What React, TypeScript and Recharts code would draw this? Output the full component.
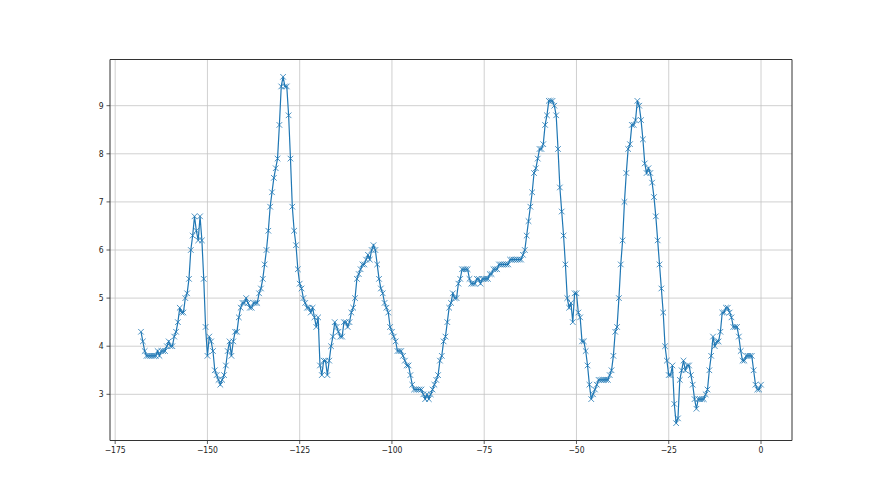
import { LineChart, Line, XAxis, YAxis, CartesianGrid, ReferenceArea } from "recharts";

// sampled every half unit, from -168 up to 0
const X_START = -168;
const X_STEP = 0.5;

const values: number[] = [
  4.3, 4.1, 3.9, 3.8, 3.8, 3.8, 3.8, 3.8, 3.8, 3.9,
  3.8, 3.9, 3.9, 3.9, 4.0, 4.1, 4.0, 4.0, 4.2, 4.3,
  4.5, 4.8, 4.7, 4.7, 5.0, 5.1, 5.4, 6.0, 6.3, 6.7,
  6.4, 6.2, 6.7, 6.2, 5.4, 4.4, 3.8, 4.2, 4.1, 3.9,
  3.5, 3.4, 3.3, 3.2, 3.3, 3.4, 3.6, 3.9, 4.1, 3.8,
  4.1, 4.3, 4.3, 4.6, 4.8, 4.9, 4.9, 5.0, 4.9, 4.8,
  4.8, 4.9, 4.9, 4.9, 5.1, 5.2, 5.4, 5.7, 6.0, 6.4,
  6.9, 7.2, 7.5, 7.7, 7.9, 8.6, 9.4, 9.6, 9.4, 9.4,
  8.8, 7.9, 6.9, 6.4, 6.1, 5.6, 5.3, 5.2, 5.0, 4.9,
  4.8, 4.8, 4.7, 4.8, 4.6, 4.4, 4.6, 3.6, 3.4, 3.7,
  3.7, 3.4, 3.7, 4.0, 4.2, 4.5, 4.4, 4.3, 4.2, 4.2,
  4.5, 4.5, 4.4, 4.5, 4.7, 4.8, 5.0, 5.4, 5.5, 5.6,
  5.7, 5.7, 5.8, 5.9, 5.8, 6.0, 6.1, 6.0, 5.7, 5.4,
  5.2, 5.1, 4.9, 4.8, 4.7, 4.4, 4.3, 4.2, 4.1, 3.9,
  3.9, 3.9, 3.8, 3.7, 3.6, 3.6, 3.4, 3.2, 3.1, 3.1,
  3.1, 3.1, 3.1, 3.0, 2.9, 3.0, 2.9, 3.0, 3.1, 3.2,
  3.3, 3.4, 3.7, 3.8, 4.1, 4.2, 4.5, 4.8, 4.9, 5.1,
  5.0, 5.0, 5.3, 5.4, 5.6, 5.6, 5.6, 5.6, 5.4, 5.3,
  5.3, 5.3, 5.4, 5.4, 5.3, 5.4, 5.4, 5.4, 5.4, 5.5,
  5.5, 5.6, 5.6, 5.6, 5.7, 5.7, 5.7, 5.7, 5.7, 5.7,
  5.8, 5.8, 5.8, 5.8, 5.8, 5.8, 5.8, 5.9, 6.0, 6.3,
  6.6, 6.9, 7.2, 7.6, 7.7, 7.9, 8.1, 8.1, 8.2, 8.6,
  8.8, 9.1, 9.1, 9.1, 9.0, 8.8, 8.1, 7.3, 6.8, 6.3,
  5.7, 5.0, 4.8, 4.9, 4.5, 5.1, 5.1, 4.7, 4.6, 4.1,
  4.1, 3.9, 3.6, 3.2, 2.9, 3.0, 3.1, 3.2, 3.3, 3.3,
  3.3, 3.3, 3.3, 3.3, 3.4, 3.5, 3.8, 4.3, 4.4, 5.0,
  5.7, 6.2, 7.0, 7.6, 8.1, 8.2, 8.6, 8.6, 8.7, 9.1,
  9.0, 8.7, 8.3, 7.8, 7.6, 7.7, 7.6, 7.4, 7.1, 6.7,
  6.2, 5.7, 5.2, 4.7, 4.0, 3.7, 3.4, 3.4, 3.6, 2.8,
  2.4, 2.5, 3.3, 3.5, 3.7, 3.5, 3.6, 3.6, 3.4, 3.2,
  2.9, 2.7, 2.9, 2.9, 2.9, 2.9, 3.0, 3.1, 3.5, 3.8,
  4.2, 4.0, 4.1, 4.1, 4.3, 4.7, 4.7, 4.8, 4.8, 4.7,
  4.6, 4.4, 4.4, 4.4, 4.2, 3.9, 3.7, 3.7, 3.8, 3.8,
  3.8, 3.8, 3.5, 3.2, 3.1, 3.1, 3.2,
];

const xTicks = [-175, -150, -125, -100, -75, -50, -25, 0];
const yTicks = [3, 4, 5, 6, 7, 8, 9];

const data = values.map((v, i) => ({ x: X_START + i * X_STEP, y: v }));

// matplotlib-style 5% padding around the data
const xMin = X_START;
const xMax = 0;
const yMin = Math.min(...values);
const yMax = Math.max(...values);
const xPad = (xMax - xMin) * 0.05;
const yPad = (yMax - yMin) * 0.05;
const xDomain: [number, number] = [xMin - xPad, xMax + xPad];
const yDomain: [number, number] = [yMin - yPad, yMax + yPad];

const BLUE = "#1f77b4";
const INK = "#333333";
const tickFont = {
  fontSize: 8.5,
  fill: "#222",
  fontFamily: "'DejaVu Sans Condensed', 'DejaVu Sans', sans-serif",
  fontStretch: "condensed",
};

const minus = (v: number) => String(v).replace("-", "\u2212");

function XMarker(props: any) {
  const { cx, cy, index } = props;
  if (cx == null || cy == null) return <g key={`m-${index}`} />;
  const s = 2.8;
  return (
    <g key={`m-${index}`}>
      <line x1={cx - s} y1={cy - s} x2={cx + s} y2={cy + s} stroke={BLUE} strokeWidth={0.8} />
      <line x1={cx - s} y1={cy + s} x2={cx + s} y2={cy - s} stroke={BLUE} strokeWidth={0.8} />
    </g>
  );
}

export default function App() {
  return (
    <div style={{ position: "absolute", left: 0, top: 0, width: 880, height: 495, background: "#fff" }}>
      <LineChart
        width={880}
        height={495}
        data={data}
        margin={{ top: 59.5, right: 88, bottom: 24.5, left: 60 }}
      >
        <CartesianGrid stroke="#c4c4c4" strokeWidth={0.8} verticalValues={xTicks} horizontalValues={yTicks} />
        <XAxis
          type="number"
          dataKey="x"
          domain={xDomain}
          ticks={xTicks}
          allowDataOverflow
          height={30}
          axisLine={false}
          tickLine={{ stroke: INK, strokeWidth: 0.8 }}
          tickSize={3.5}
          tickMargin={3}
          tick={tickFont}
          tickFormatter={minus}
        />
        <YAxis
          type="number"
          domain={yDomain}
          ticks={yTicks}
          allowDataOverflow
          width={50}
          axisLine={false}
          tickLine={{ stroke: INK, strokeWidth: 0.8 }}
          tickSize={3.5}
          tickMargin={3}
          tick={tickFont}
          tickFormatter={minus}
        />
        <ReferenceArea
          x1={xDomain[0]}
          x2={xDomain[1]}
          y1={yDomain[0]}
          y2={yDomain[1]}
          fill="none"
          stroke={INK}
          strokeWidth={1}
          fillOpacity={0}
        />
        <Line
          type="linear"
          dataKey="y"
          stroke={BLUE}
          strokeWidth={1.2}
          dot={(p: any) => <XMarker {...p} />}
          activeDot={false}
          isAnimationActive={false}
        />
      </LineChart>
    </div>
  );
}
